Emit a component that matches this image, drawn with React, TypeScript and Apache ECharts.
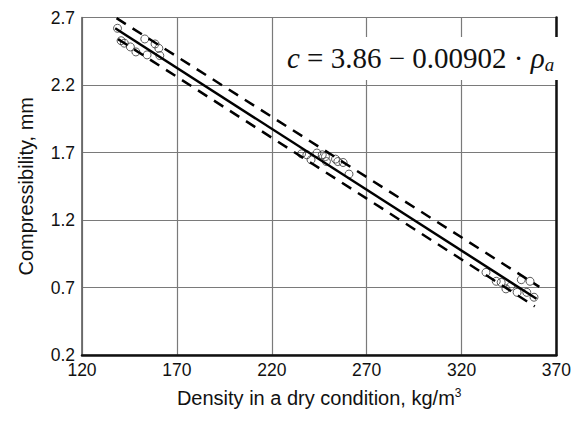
import React, { useEffect, useRef } from "react";
import * as echarts from "echarts";

const xTicks = [120, 170, 220, 270, 320, 370];
const yTicks = [0.2, 0.7, 1.2, 1.7, 2.2, 2.7];

const measured: [number, number][] = [
  [138.7, 2.62], [140.6, 2.528], [142.3, 2.51], [145.5, 2.482], [148.4, 2.445],
  [153.1, 2.541], [158.5, 2.504], [160.5, 2.472], [154.3, 2.423], [161.0, 2.418],
  [235.7, 1.69], [238.5, 1.683], [240.7, 1.646], [243.8, 1.696], [246.6, 1.683],
  [248.3, 1.67], [248.8, 1.633], [253.6, 1.651], [254.8, 1.633], [257.6, 1.626],
  [260.7, 1.54],
  [332.9, 0.812], [338.3, 0.746], [340.9, 0.738], [343.4, 0.69], [345.9, 0.709],
  [349.3, 0.664], [351.5, 0.758], [354.4, 0.664], [356.1, 0.746], [358.2, 0.628],
];

const regression: [number, number][] = [[137.5, 2.62], [359.5, 0.617]];
const upperBound: [number, number][] = [[138.2, 2.695], [361, 0.705]];
const lowerBound: [number, number][] = [[139, 2.54], [358.6, 0.56]];

export default function App() {
  const ref = useRef<HTMLDivElement>(null);
  useEffect(() => {
    if (!ref.current) return;
    const chart = echarts.init(ref.current, null, { renderer: "svg" });
    const font = "'Liberation Sans', Arial, sans-serif";
    const serif = "'Liberation Serif', 'Times New Roman', serif";
    chart.setOption({
      animation: false,
      backgroundColor: "#fff",
      grid: {
        left: 61,
        right: 12,
        top: 9.5,
        bottom: 57.5,
        show: true,
        borderColor: "#808080",
        borderWidth: 1,
      },
      xAxis: {
        type: "value",
        min: 120,
        max: 370,
        name: "Density in a dry condition, kg/m{sup|3}",
        nameLocation: "middle",
        nameGap: 32,
        nameTextStyle: {
          fontFamily: font,
          fontSize: 20,
          color: "#111",
          rich: { sup: { fontFamily: font, fontSize: 12, color: "#111", padding: [0, 0, 10, 0] } },
        },
        axisLine: { show: true, lineStyle: { color: "#111", width: 2.5 } },
        axisTick: { show: false, customValues: xTicks },
        axisLabel: { customValues: xTicks, fontFamily: font, fontSize: 17.5, color: "#111", margin: 6 },
        splitLine: { show: true, lineStyle: { color: "#7a7a7a", width: 1.2 } },
      },
      yAxis: [
        {
          type: "value",
          min: 0.2,
          max: 2.7,
          name: "Compressibility, mm",
          nameLocation: "middle",
          nameGap: 46,
          nameTextStyle: { fontFamily: font, fontSize: 20, color: "#111" },
          axisLine: { show: true, lineStyle: { color: "#666", width: 1.5 } },
          axisTick: { show: false, customValues: yTicks },
          axisLabel: {
            customValues: yTicks,
            fontFamily: font,
            fontSize: 17.5,
            color: "#111",
            margin: 7,
            formatter: (v: number) => v.toFixed(1),
          },
          splitLine: { show: true, lineStyle: { color: "#7a7a7a", width: 1.2 } },
        },
        {
          type: "value",
          min: 0.2,
          max: 2.7,
          position: "right",
          axisLine: { show: true, lineStyle: { color: "#111", width: 2.5 } },
          axisTick: { show: false },
          axisLabel: { show: false },
          splitLine: { show: false },
        },
      ],
      graphic: [
        {
          type: "rect",
          shape: { x: 275, y: 29, width: 277, height: 43 },
          style: { fill: "#fff" },
          z: 10,
        },
        {
          type: "text",
          x: 279,
          y: 34,
          z: 11,
          style: {
            text: "{i|c} = 3.86 − 0.00902 · {i|ρ}{s|a}",
            fontFamily: serif,
            fontSize: 29,
            fill: "#111",
            rich: {
              i: { fontFamily: serif, fontSize: 29, fontStyle: "italic", fill: "#111" },
              s: { fontFamily: serif, fontSize: 19, fontStyle: "italic", fill: "#111", padding: [13, 0, 0, 0] },
            },
          },
        },
      ],
      series: [
        {
          type: "scatter",
          data: measured,
          symbol: "circle",
          symbolSize: 8,
          itemStyle: { color: "rgba(255,255,255,0)", borderColor: "#333", borderWidth: 1 },
          z: 3,
        },
        {
          type: "line",
          data: regression,
          showSymbol: false,
          lineStyle: { color: "#000", width: 2.5 },
          z: 4,
        },
        {
          type: "line",
          data: upperBound,
          showSymbol: false,
          lineStyle: { color: "#000", width: 2.5, type: [11, 8] },
          z: 4,
        },
        {
          type: "line",
          data: lowerBound,
          showSymbol: false,
          lineStyle: { color: "#000", width: 2.5, type: [11, 8] },
          z: 4,
        },
      ],
    });
    return () => chart.dispose();
  }, []);
  return <div ref={ref} style={{ width: 566, height: 405 }} />;
}
